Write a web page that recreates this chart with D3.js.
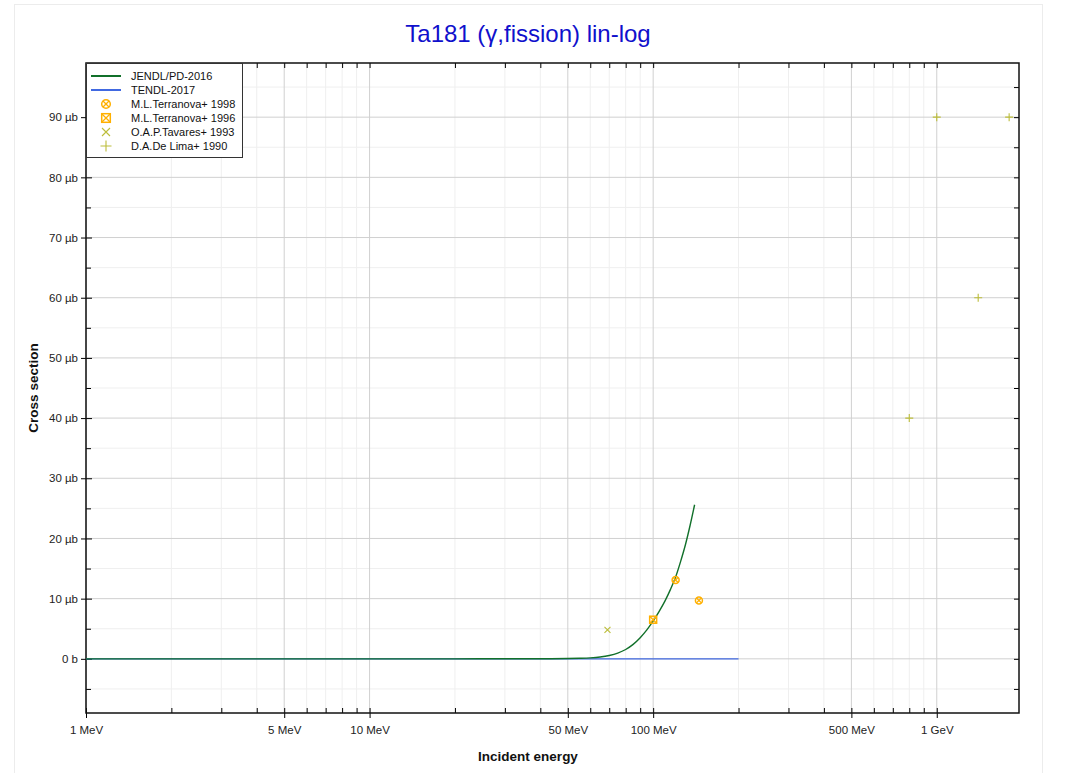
<!DOCTYPE html>
<html>
<head>
<meta charset="utf-8">
<script src="https://cdn.jsdelivr.net/npm/d3@7"></script>
<style>
  html, body { margin: 0; padding: 0; background: #fff; }
  text { font-family: "Liberation Sans", Arial, sans-serif; }
</style>
</head>
<body>
<svg id="chart" width="1067" height="773"></svg>
<script>
// ---------------- data ----------------
const titleText = "Ta181 (\u03b3,fission) lin-log";
const xAxisTitle = "Incident energy";
const yAxisTitle = "Cross section";

// energies in MeV, cross sections in microbarn
const jendlE  = [1, 10, 20, 30, 40, 50, 55, 60, 65, 70, 75, 80, 85, 90, 95, 100, 105, 110, 115, 120, 125, 130, 135, 140];
const jendlXS = [0, 0, 0.001, 0.004, 0.015, 0.05, 0.09, 0.16, 0.3, 0.55, 0.95, 1.55, 2.4, 3.5, 4.8, 6.3, 7.9, 9.6, 11.5, 13.6, 16.2, 19.0, 22.2, 25.6];

const tendlE  = [1, 10, 50, 100, 150, 200];
const tendlXS = [0, 0, 0, 0, 0, 0];

const terr98E  = [120, 145];
const terr98XS = [13.1, 9.7];
const terr96E  = [100];
const terr96XS = [6.5];
const tavE  = [69];
const tavXS = [4.8];
const limaE  = [800, 1000, 1400, 1800];
const limaXS = [40, 90, 60, 90];

const xMajorTicks = [1, 5, 10, 50, 100, 500, 1000];
const xMajorLabels = ["1 MeV", "5 MeV", "10 MeV", "50 MeV", "100 MeV", "500 MeV", "1 GeV"];
const yMajorTicks = [0, 10, 20, 30, 40, 50, 60, 70, 80, 90];
const yMajorLabels = ["0 b", "10 \u00b5b", "20 \u00b5b", "30 \u00b5b", "40 \u00b5b", "50 \u00b5b", "60 \u00b5b", "70 \u00b5b", "80 \u00b5b", "90 \u00b5b"];
const yMinorTicks = [-5, 5, 15, 25, 35, 45, 55, 65, 75, 85, 95];

const legendNames = ["JENDL/PD-2016", "TENDL-2017", "M.L.Terranova+ 1998", "M.L.Terranova+ 1996", "O.A.P.Tavares+ 1993", "D.A.De Lima+ 1990"];

// ---------------- layout ----------------
const L = 86, R = 1019, T = 63, B = 713;
const svg = d3.select("#chart");
const x = d3.scaleLog().domain([1, 1950]).range([L, R]);
const y = d3.scaleLinear().domain([-9, 99]).range([B, T]);

const xMinorTicks = [];
[1, 10, 100, 1000].forEach(d => { for (let m = 2; m <= 9; m++) { const v = d * m; if (v <= 1950 && !xMajorTicks.includes(v)) xMinorTicks.push(v); } });

const COL_GREEN = "#11702a", COL_BLUE = "#4169e1", COL_ORANGE = "#ffb000", COL_OLIVE = "#bcbd3a";

// outer frame
svg.append("rect").attr("x", 14.5).attr("y", 4.5).attr("width", 1028).attr("height", 790)
  .attr("fill", "none").attr("stroke", "#ececec");

// title
svg.append("text").attr("x", 528).attr("y", 42).attr("text-anchor", "middle")
  .attr("font-size", 24).attr("fill", "#1010cc").text(titleText);

// grid
const grid = svg.append("g");
xMinorTicks.forEach(v => grid.append("line").attr("x1", x(v)).attr("x2", x(v)).attr("y1", T).attr("y2", B).attr("stroke", "#efefef"));
yMinorTicks.forEach(v => grid.append("line").attr("x1", L).attr("x2", R).attr("y1", y(v)).attr("y2", y(v)).attr("stroke", "#efefef"));
xMajorTicks.forEach(v => grid.append("line").attr("x1", x(v)).attr("x2", x(v)).attr("y1", T).attr("y2", B).attr("stroke", "#d0d0d0"));
yMajorTicks.forEach(v => grid.append("line").attr("x1", L).attr("x2", R).attr("y1", y(v)).attr("y2", y(v)).attr("stroke", "#d0d0d0"));

// axes with d3 axis generators
const ax = svg.append("g");
const bottomMajor = d3.axisBottom(x).tickValues(xMajorTicks).tickFormat((d, i) => xMajorLabels[i]).tickSize(5).tickSizeOuter(0);
const gB = ax.append("g").attr("transform", `translate(0,${B})`).call(bottomMajor);
gB.select(".domain").remove();
gB.selectAll(".tick line").attr("y1", -5).attr("y2", 5).attr("stroke", "#000");
gB.selectAll(".tick text").attr("y", 13).attr("font-size", 11.5).attr("fill", "#222").attr("font-family", "Liberation Sans, Arial, sans-serif");
const gBm = ax.append("g").attr("transform", `translate(0,${B})`).call(d3.axisBottom(x).tickValues(xMinorTicks).tickFormat("").tickSize(-5).tickSizeOuter(0));
gBm.select(".domain").remove();
const gTm = ax.append("g").attr("transform", `translate(0,${T})`).call(d3.axisTop(x).tickValues(xMinorTicks.concat(xMajorTicks)).tickFormat("").tickSize(-5).tickSizeOuter(0));
gTm.select(".domain").remove();

const gL = ax.append("g").attr("transform", `translate(${L},0)`).call(d3.axisLeft(y).tickValues(yMajorTicks).tickFormat((d, i) => yMajorLabels[i]).tickSize(5).tickSizeOuter(0));
gL.select(".domain").remove();
gL.selectAll(".tick line").attr("x1", -5).attr("x2", 6).attr("stroke", "#000");
gL.selectAll(".tick text").attr("x", -8).attr("font-size", 11.5).attr("fill", "#222").attr("font-family", "Liberation Sans, Arial, sans-serif");
const gLm = ax.append("g").attr("transform", `translate(${L},0)`).call(d3.axisLeft(y).tickValues(yMinorTicks.filter(v => v < 99)).tickFormat("").tickSize(-5).tickSizeOuter(0));
gLm.select(".domain").remove();
const gRm = ax.append("g").attr("transform", `translate(${R},0)`).call(d3.axisRight(y).tickValues(yMinorTicks.concat(yMajorTicks).filter(v => v < 99)).tickFormat("").tickSize(-5).tickSizeOuter(0));
gRm.select(".domain").remove();

// plot box
svg.append("rect").attr("x", L).attr("y", T).attr("width", R - L).attr("height", B - T)
  .attr("fill", "none").attr("stroke", "#111").attr("stroke-width", 1.5);

// axis titles
svg.append("text").attr("x", 528).attr("y", 761).attr("text-anchor", "middle")
  .attr("font-size", 13.5).attr("font-weight", "bold").attr("fill", "#111").text(xAxisTitle);
svg.append("text").attr("transform", `translate(38,${(T + B) / 2}) rotate(-90)`).attr("text-anchor", "middle")
  .attr("font-size", 13.5).attr("font-weight", "bold").attr("fill", "#111").text(yAxisTitle);

// curves
const plot = svg.append("g");
const line = d3.line().x(d => x(d[0])).y(d => y(d[1])).curve(d3.curveMonotoneX);
plot.append("path").datum(d3.zip(tendlE, tendlXS)).attr("d", line)
  .attr("fill", "none").attr("stroke", COL_BLUE).attr("stroke-width", 1.2);
plot.append("path").datum(d3.zip(jendlE, jendlXS)).attr("d", line)
  .attr("fill", "none").attr("stroke", COL_GREEN).attr("stroke-width", 1.4);

// markers
function circleX(g, cx, cy, r, col) {
  g.append("circle").attr("cx", cx).attr("cy", cy).attr("r", r).attr("fill", "none").attr("stroke", col).attr("stroke-width", 1.5);
  const k = r * 0.7;
  g.append("path").attr("d", `M${cx - k},${cy - k}L${cx + k},${cy + k}M${cx - k},${cy + k}L${cx + k},${cy - k}`).attr("stroke", col).attr("stroke-width", 1.3);
}
function squareX(g, cx, cy, r, col) {
  g.append("rect").attr("x", cx - r).attr("y", cy - r).attr("width", 2 * r).attr("height", 2 * r).attr("fill", "none").attr("stroke", col).attr("stroke-width", 1.5);
  g.append("path").attr("d", `M${cx - r},${cy - r}L${cx + r},${cy + r}M${cx - r},${cy + r}L${cx + r},${cy - r}`).attr("stroke", col).attr("stroke-width", 1.3);
}
function xMark(g, cx, cy, r, col) {
  g.append("path").attr("d", `M${cx - r},${cy - r}L${cx + r},${cy + r}M${cx - r},${cy + r}L${cx + r},${cy - r}`).attr("stroke", col).attr("stroke-width", 1.1);
}
function plusMark(g, cx, cy, r, col) {
  g.append("path").attr("d", `M${cx - r},${cy}L${cx + r},${cy}M${cx},${cy - r}L${cx},${cy + r}`).attr("stroke", col).attr("stroke-width", 1.1);
}
d3.zip(terr98E, terr98XS).forEach(d => circleX(plot, x(d[0]), y(d[1]), 3.5, COL_ORANGE));
d3.zip(terr96E, terr96XS).forEach(d => squareX(plot, x(d[0]), y(d[1]), 3.5, COL_ORANGE));
d3.zip(tavE, tavXS).forEach(d => xMark(plot, x(d[0]), y(d[1]), 3, COL_OLIVE));
d3.zip(limaE, limaXS).forEach(d => plusMark(plot, x(d[0]), y(d[1]), 4, COL_OLIVE));

// legend
const lg = svg.append("g");
lg.append("rect").attr("x", L + 0.5).attr("y", T + 0.5).attr("width", 156).attr("height", 94)
  .attr("fill", "#fff").attr("stroke", "#333").attr("stroke-width", 1);
const rowY = i => 76 + i * 14;
legendNames.forEach((name, i) => {
  lg.append("text").attr("x", 131).attr("y", rowY(i) + 4).attr("font-size", 11).attr("fill", "#111").text(name);
});
lg.append("line").attr("x1", 91).attr("x2", 121).attr("y1", rowY(0)).attr("y2", rowY(0)).attr("stroke", COL_GREEN).attr("stroke-width", 2);
lg.append("line").attr("x1", 91).attr("x2", 121).attr("y1", rowY(1)).attr("y2", rowY(1)).attr("stroke", COL_BLUE).attr("stroke-width", 2);
circleX(lg, 106, rowY(2), 4.3, COL_ORANGE);
squareX(lg, 106, rowY(3), 4.3, COL_ORANGE);
xMark(lg, 106, rowY(4), 4, COL_OLIVE);
plusMark(lg, 106, rowY(5), 5.5, COL_OLIVE);
</script>
</body>
</html>
